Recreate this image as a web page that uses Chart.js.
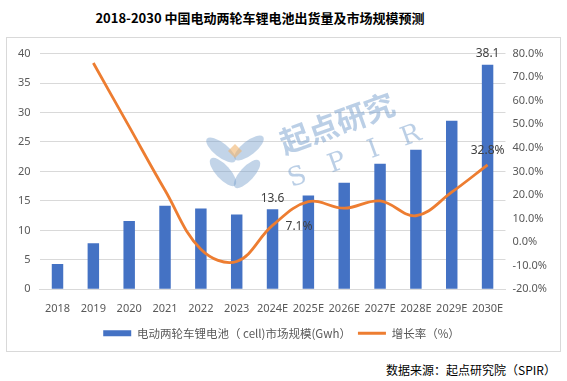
<!DOCTYPE html>
<html>
<head>
<meta charset="utf-8">
<script src="https://cdn.jsdelivr.net/npm/chart.js@4"></script>
<style>
  body { margin: 0; background: #fff; width: 567px; height: 381px; position: relative; overflow: hidden; }
  #titulo { position: absolute; left: 80px; width: 360px; top: 8px; text-align: center;
            font: bold 13px "Noto Sans CJK SC", sans-serif; color: #000; }
  #caja { position: absolute; left: 6px; top: 37px; width: 553px; height: 313px; border: 1px solid #d9d9d9; }
  #fuente { position: absolute; right: 11px; top: 361px; font: 12px "Noto Sans CJK SC", sans-serif; color: #000; }
</style>
</head>
<body>
<div id="titulo">2018-2030 中国电动两轮车锂电池出货量及市场规模预测</div>
<div id="caja"><canvas id="myChart"></canvas></div>
<div id="fuente">数据来源：起点研究院（SPIR）</div>
<script>
// Categorías (años) y valores
const anios = ['2018', '2019', '2020', '2021', '2022', '2023', '2024E', '2025E', '2026E', '2027E', '2028E', '2029E', '2030E'];
const mercado = [4.3, 7.8, 11.6, 14.2, 13.7, 12.7, 13.6, 15.9, 18.1, 21.3, 23.7, 28.6, 38.1];
const crecimiento = [null, 76.0, 49.0, 22.0, -3.0, -8.2, 7.1, 17.2, 14.4, 17.5, 11.2, 21.2, 32.8];

// Etiquetas del eje derecho
const ticksPct = [-20, -10, 0, 10, 20, 30, 40, 50, 60, 70, 80];

const azul = '#4472C4';
const naranja = '#ED7D31';
const gris = '#595959';

// Marca de agua "起点研究 SPIR"
const marcaAgua = {
    id: 'marcaAgua',
    beforeDatasetsDraw(chart) {
        const ctx = chart.ctx;
        ctx.save();
        // logo aproximado
        ctx.fillStyle = 'rgba(120,160,205,0.45)';
        const petalos = [[-14, -10, -0.9], [14, -12, 0.9], [-12, 12, 2.4], [12, 14, -2.4]];
        petalos.forEach(p => {
            ctx.beginPath();
            ctx.ellipse(228 + p[0], 122 + p[1], 7, 18, p[2], 0, Math.PI * 2);
            ctx.fill();
        });
        ctx.fillStyle = 'rgba(240,180,110,0.6)';
        ctx.beginPath();
        ctx.moveTo(228, 106); ctx.lineTo(235, 113); ctx.lineTo(228, 120); ctx.lineTo(221, 113);
        ctx.fill();
        // textos
        ctx.translate(330, 85);
        ctx.rotate(-0.35);
        ctx.fillStyle = 'rgba(120,160,205,0.5)';
        ctx.font = 'bold 30px "Noto Sans CJK SC"';
        ctx.textAlign = 'center';
        ctx.textBaseline = 'middle';
        ctx.fillText('起点研究', 0, 0);
        ctx.font = '26px "DejaVu Serif"';
        ctx.fillText('S   P   I   R', 5, 38);
        ctx.restore();
    }
};

// Etiquetas de datos
const etiquetas = {
    id: 'etiquetas',
    afterDatasetsDraw(chart) {
        const ctx = chart.ctx;
        const barras = chart.getDatasetMeta(0).data;
        const puntos = chart.getDatasetMeta(1).data;
        ctx.save();
        ctx.font = '12px "Noto Sans", sans-serif';
        ctx.fillStyle = '#404040';
        ctx.textAlign = 'center';
        ctx.textBaseline = 'bottom';
        [6, 12].forEach(i => {
            ctx.fillText(mercado[i].toFixed(1), barras[i].x, barras[i].y - 5);
        });
        ctx.textBaseline = 'middle';
        ctx.textAlign = 'left';
        ctx.fillText(crecimiento[6].toFixed(1) + '%', puntos[6].x + 13, puntos[6].y + 1);
        ctx.textAlign = 'center';
        ctx.fillText(crecimiento[12].toFixed(1) + '%', puntos[12].x, puntos[12].y - 14);
        ctx.restore();
    }
};

const ctx = document.getElementById('myChart').getContext('2d');

new Chart(ctx, {
    data: {
        labels: anios,
        datasets: [{
            type: 'bar',
            label: '电动两轮车锂电池（ cell)市场规模(Gwh）',
            data: mercado,
            backgroundColor: azul,
            barPercentage: 0.32,
            categoryPercentage: 1,
            pointStyle: 'rect',
            yAxisID: 'y',
            order: 2
        }, {
            type: 'line',
            label: '增长率（%）',
            data: crecimiento,
            borderColor: naranja,
            backgroundColor: naranja,
            borderWidth: 2.8,
            pointRadius: 0,
            pointStyle: 'line',
            tension: 0.38,
            yAxisID: 'y1',
            order: 1
        }]
    },
    options: {
        responsive: true,
        maintainAspectRatio: false,
        animation: false,
        layout: { padding: { left: 2, right: 6, top: 10, bottom: 2 } },
        plugins: {
            title: { display: false },
            tooltip: { enabled: false },
            legend: {
                position: 'bottom',
                labels: {
                    usePointStyle: true,
                    pointStyleWidth: 28,
                    boxHeight: 6,
                    padding: 7,
                    color: gris,
                    font: { family: '"Noto Sans CJK SC"', size: 11.5 },
                    sort: (a, b) => a.datasetIndex - b.datasetIndex
                }
            }
        },
        scales: {
            x: {
                grid: { display: false },
                border: { color: '#d9d9d9' },
                ticks: {
                    color: gris, maxRotation: 0, autoSkip: false, padding: 5,
                    font: { family: '"Noto Sans"', size: 11 }
                }
            },
            y: {
                min: 0, max: 40,
                ticks: { stepSize: 5, color: gris, padding: 9, font: { family: '"Noto Sans"', size: 11 } },
                grid: { color: '#d9d9d9', drawTicks: false },
                border: { display: false }
            },
            y1: {
                position: 'right',
                min: -20, max: 80,
                afterBuildTicks: axis => { axis.ticks = ticksPct.map(v => ({ value: v })); },
                ticks: {
                    color: gris, padding: 7,
                    font: { family: '"Noto Sans"', size: 11 },
                    callback: v => v.toFixed(1) + '%'
                },
                grid: { display: false, drawTicks: false },
                border: { display: false }
            }
        }
    },
    plugins: [marcaAgua, etiquetas]
});
</script>
</body>
</html>
